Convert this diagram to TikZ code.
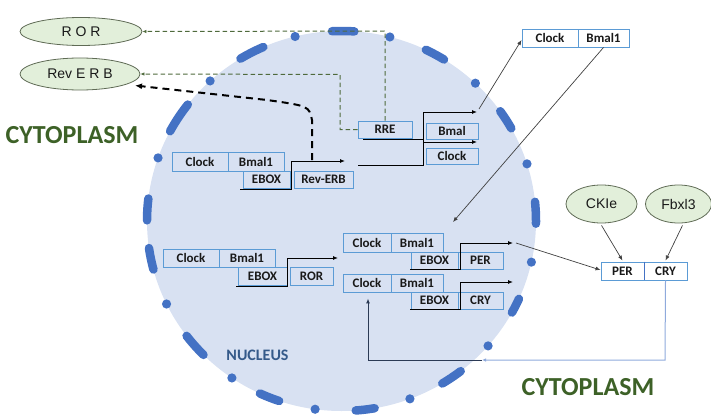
\documentclass[tikz,border=0pt]{standalone}
\usepackage{fontspec}
\setmainfont{Carlito}
\newfontfamily\arialf{Liberation Sans}
\usetikzlibrary{arrows.meta,calc,shapes.geometric}
\definecolor{nucfill}{HTML}{D8E1F2}
\definecolor{nucblue}{HTML}{4472C4}
\definecolor{boxblue}{HTML}{5B9BD5}
\definecolor{ellfill}{HTML}{E2EFDA}
\definecolor{elldraw}{HTML}{5F6B55}
\definecolor{grdash}{HTML}{4F6A3C}
\definecolor{cytogreen}{HTML}{3D6127}
\definecolor{nuctext}{HTML}{355A8A}
\definecolor{fbline}{HTML}{8FAADC}
\definecolor{navy}{HTML}{2B3A55}
\tikzset{
  gbox/.style={draw=boxblue, line width=0.9pt, inner sep=0pt, minimum height=18pt,
    text=black!90, font=\fontsize{13}{15}\selectfont\bfseries},
  oval/.style={ellipse, draw=elldraw, fill=ellfill, line width=0.8pt, inner sep=0pt,
    font=\arialf\fontsize{14}{16}\selectfont, text=black!90},
  tline/.style={black, line width=0.9pt},
  tarrow/.style={tline, -{Latex[length=5pt,width=4pt]}},
  thinarrow/.style={black!75, line width=0.7pt, -{Latex[length=5pt,width=4pt]}},
  grarrow/.style={grdash, line width=1pt, dash pattern=on 4.5pt off 3pt, -{Latex[length=4pt,width=3.5pt]}},
  bkarrow/.style={black, line width=2pt, dash pattern=on 7pt off 5pt, -{Latex[length=7pt,width=6pt]}},
  nucdash/.style={nucblue, line width=8.5pt, line cap=round},
  cyto/.style={text=cytogreen, font=\fontsize{26}{28}\selectfont\bfseries},
}
\begin{document}
\begin{tikzpicture}[x=1pt,y=-1pt]
\useasboundingbox (0,0) rectangle (711,417);
% nucleus
\fill[nucfill] (341.5,221) ellipse [x radius=194.5, y radius=190];
\foreach \a/\b in {86.2/92.8, 113.7/121.3, 142.2/151.8, 173.2/179.8, 188.2/194.8, 217.2/224.8, 245.2/251.3, 274.2/279.8, 301.2/307.8, 331.2/335.8, -0.8/5.8, 29.2/35.3, 58.2/64.3}
  \draw[nucdash] plot[domain=\a:\b, samples=10, smooth] ({341.5+194.5*cos(\x)},{221-190*sin(\x)});
\foreach \d in {103.8, 132.5, 160.6, 205.9, 235.7, 262.2, 290.6, 318.9, 347.5, 17.5, 46.5, 75.6}
  \fill[nucblue] ({341.5+194.5*cos(\d)},{221-190*sin(\d)}) circle [radius=4.6];

% labels
\node[cyto] (cytoL) at (72,135) {CYTOPLASM};
\node[cyto] (cytoR) at (588,387) {CYTOPLASM};
\node[text=nuctext, font=\fontsize{16}{18}\selectfont\bfseries] (nucl) at (257.5,355) {NUCLEUS};

% ovals
\node[oval, minimum width=122pt, minimum height=28pt] (ror) at (81,31.5) {R O R};
\node[oval, minimum width=120pt, minimum height=32pt] (reverb) at (80,74) {Rev E R B};
\node[oval, minimum width=71pt, minimum height=38pt] (ckie) at (601.5,204) {CKIe};
\node[oval, minimum width=66pt, minimum height=38pt] (fbxl) at (678.5,204) {Fbxl3};

% group A (Rev-ERB)
\node[gbox, minimum width=56pt, minimum height=19pt] (Aclock) at (200,161.5) {Clock};
\node[gbox, minimum width=56pt, minimum height=19pt] (Abmal) at (256,161.5) {Bmal1};
\node[gbox, minimum width=47pt, minimum height=17pt] (Aebox) at (266.5,179.5) {EBOX};
\node[gbox, minimum width=59pt, minimum height=17pt] (Arev) at (323.5,179.5) {Rev-ERB};
\coordinate (Ap0) at (240,189); \coordinate (Ap1) at (291,189);
\coordinate (Ap2) at (291,161); \coordinate (Ap3) at (345,161);
\draw[tarrow] (Ap0) -- (Ap1) -- (Ap2) -- (Ap3);

% group R (RRE)
\node[gbox, minimum width=54pt, minimum height=17pt] (RRE) at (385,129.5) {RRE};
\node[gbox, minimum width=52pt, minimum height=16pt] (Rbmal) at (452,131) {Bmal};
\node[gbox, minimum width=52pt, minimum height=16pt] (Rclock) at (452,156) {Clock};
\coordinate (Ru0) at (363,139.5); \coordinate (Ru1) at (423,139.5);
\coordinate (Rb0) at (358,165); \coordinate (Rb1) at (423,165);
\coordinate (Rt0) at (423,112); \coordinate (Rt1) at (477,112);
\coordinate (Rm0) at (423,142); \coordinate (Rm1) at (477,142);
\draw[tline] (Ru0) -- (Ru1);
\draw[tarrow] (Rb0) -- (Rb1) -- (Rt0) -- (Rt1);
\draw[tarrow] (Rm0) -- (Rm1);

% top-right Clock/Bmal1
\node[gbox, minimum width=56pt] (Tclock) at (550,38) {Clock};
\node[gbox, minimum width=51pt] (Tbmal) at (603.5,38) {Bmal1};
\coordinate (Rt2) at (479,109);
\draw[thinarrow] (Rt2) -- ($(Tclock.west)+(0,2)$);
\coordinate (Ptarget) at (453,222);
\draw[thinarrow] (Tbmal.south) -- (Ptarget);

% group ROR
\node[gbox, minimum width=56pt] (Oclock) at (191,258) {Clock};
\node[gbox, minimum width=56pt] (Obmal) at (247,258) {Bmal1};
\node[gbox, minimum width=49pt] (Oebox) at (262.5,276) {EBOX};
\node[gbox, minimum width=43pt] (Oror) at (311.5,276) {ROR};
\coordinate (Op0) at (236,286); \coordinate (Op1) at (287,286);
\coordinate (Op2) at (287,258); \coordinate (Op3) at (338,258);
\draw[tarrow] (Op0) -- (Op1) -- (Op2) -- (Op3);

% group PER
\node[gbox, minimum width=48pt, minimum height=19pt] (Pclock) at (367,242.5) {Clock};
\node[gbox, minimum width=52pt, minimum height=19pt] (Pbmal) at (417,242.5) {Bmal1};
\node[gbox, minimum width=47pt, minimum height=17pt] (Pebox) at (434.5,260.5) {EBOX};
\node[gbox, minimum width=45pt, minimum height=17pt] (Pper) at (480.5,260.5) {PER};
\coordinate (Pp0) at (410,269); \coordinate (Pp1) at (460,269);
\coordinate (Pp2) at (460,243); \coordinate (Pp3) at (513,243);
\draw[tarrow] (Pp0) -- (Pp1) -- (Pp2) -- (Pp3);

% group CRY
\node[gbox, minimum width=48pt] (Cclock) at (367,283) {Clock};
\node[gbox, minimum width=52pt] (Cbmal) at (417,283) {Bmal1};
\node[gbox, minimum width=47pt, minimum height=17pt] (Cebox) at (434.5,300.5) {EBOX};
\node[gbox, minimum width=45pt, minimum height=17pt] (Ccry) at (480.5,300.5) {CRY};
\coordinate (Cp0) at (410,309); \coordinate (Cp1) at (460,309);
\coordinate (Cp2) at (460,282); \coordinate (Cp3) at (513,282);
\draw[tarrow] (Cp0) -- (Cp1) -- (Cp2) -- (Cp3);

% PER/CRY complex
\node[gbox, minimum width=43pt] (Xper) at (622.5,271) {PER};
\node[gbox, minimum width=43pt] (Xcry) at (665.5,271) {CRY};
\draw[nucblue, line width=1pt] (Xper.north east) -- (Xper.south east);
\coordinate (Pout) at (516,243);
\draw[thinarrow] (Pout) -- ($(Xper.west)+(0,-1)$);
\draw[thinarrow] ($(ckie.south)+(0,2)$) -- ($(Xper.north)+(0,-1)$);
\draw[thinarrow] ($(fbxl.south)+(4,2)$) -- ($(Xcry.north)+(0,-1)$);

% feedback
\coordinate (Fb1) at (665,360); \coordinate (Fb2) at (482,360);
\coordinate (Fb3) at (368,360);
\draw[fbline, line width=1pt, -{Latex[length=4pt,width=3.5pt]}] (Xcry.south) -- (Fb1) -- (Fb2);
\draw[navy, line width=1pt, -{Latex[length=5pt,width=4pt]}] (Fb2) -- (Fb3) -- ($(Cclock.south)+(1,6)$);

% dashed connectors to ovals
\coordinate (g1) at (385,31);
\draw[grarrow] (RRE.north) -- (g1) -- (ror.east);
\coordinate (g2) at (340,129.5); \coordinate (g3) at (340,74.5);
\draw[grarrow] (RRE.west) -- (g2) -- (g3) -- (reverb.east);
\coordinate (k0) at (312,160); \coordinate (k1) at (312,120); \coordinate (k2) at (267,100);
\draw[bkarrow] (k0) -- (k1) .. controls (309,106) .. (k2) -- (135,85.5);
\end{tikzpicture}
\end{document}
